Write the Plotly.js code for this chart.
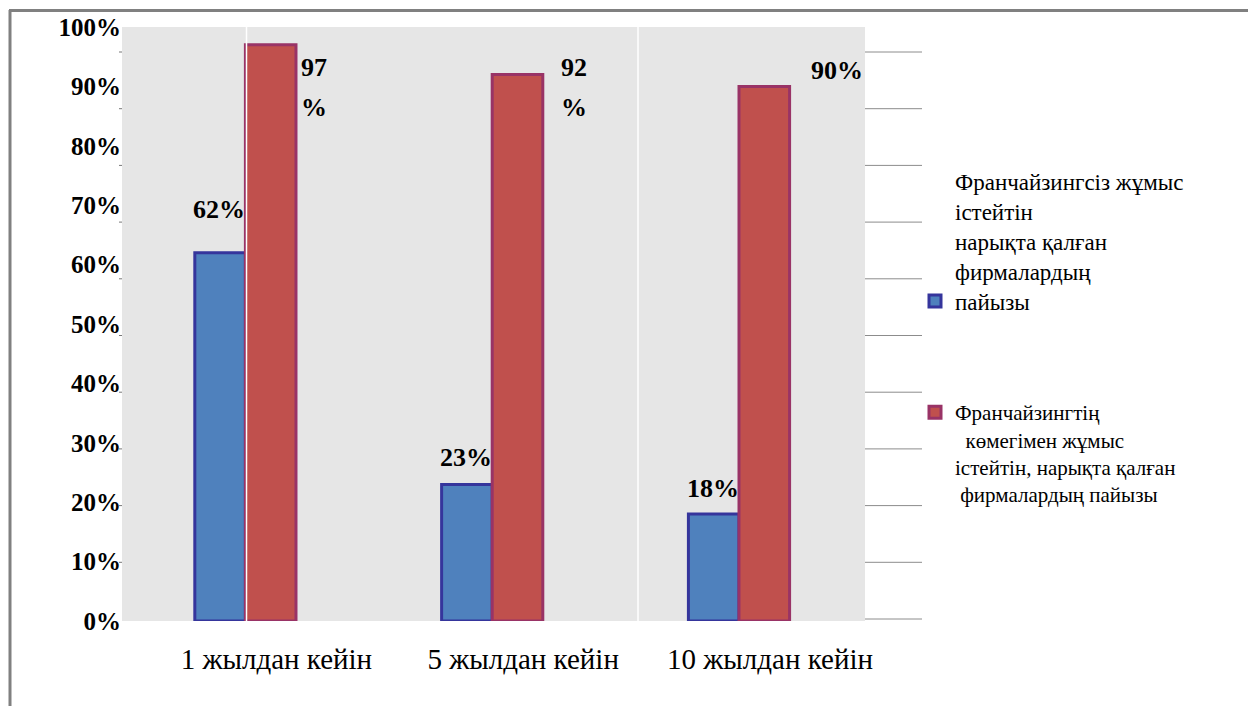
<!DOCTYPE html>
<html>
<head>
<meta charset="utf-8">
<script src="https://cdn.plot.ly/plotly-3.0.1.min.js"></script>
<style>html,body{margin:0;padding:0;background:#fff;}#chart{width:1248px;height:706px;}</style>
</head>
<body>
<div id="chart"></div>
<script>
// ---- data ----
const categories = ['1 жылдан кейін', '5 жылдан кейін', '10 жылдан кейін'];
const withoutFranchise = [62, 23, 18];
const withFranchise = [97, 92, 90];
const seriesNames = [
  'Франчайзингсіз жұмыс<br>істейтін<br>нарықта қалған<br>фирмалардың<br>пайызы',
  'Франчайзингтің<br>&nbsp;&nbsp;көмегімен жұмыс<br>істейтін, нарықта қалған<br>&nbsp;фирмалардың пайызы'
];
const blueLabels = ['62%', '23%', '18%'];
const redLabelsTop = ['97', '92', '90%'];
const redLabelsBottom = ['%', '%', ''];
const yTickVals = [0, 10, 20, 30, 40, 50, 60, 70, 80, 90, 100];
const yTickText = ['0%', '10%', '20%', '30%', '40%', '50%', '60%', '70%', '80%', '90%', '100%'];

// ---- styling ----
const W = 1248, H = 706;
const M = {l: 122, r: W - 865, t: 27, b: H - 621};
const plotW = W - M.l - M.r, plotH = H - M.t - M.b;
const px2x = p => (p - M.l) / plotW;
const px2y = p => (H - M.b - p) / plotH;
const serif = "'Liberation Serif', 'Times New Roman', serif";

const blueYShift = [43, 27, 26];
const redXShift = [54, 67, 70];
const redYShift = [-23, 7, 16];

const traces = [
  {
    type: 'bar', x: categories, y: withoutFranchise, name: seriesNames[0],
    marker: {color: '#4F81BD', line: {color: '#35359C', width: 3}},
    legend: 'legend', hoverinfo: 'skip'
  },
  {
    type: 'bar', x: categories, y: withFranchise, name: seriesNames[1],
    marker: {color: '#C0504D', line: {color: '#993366', width: 3}},
    legend: 'legend2', hoverinfo: 'skip'
  }
];

const annotations = [];
const labelFont = {family: serif, size: 26, color: '#000', weight: 'bold'};
categories.forEach((c, i) => {
  annotations.push({x: c, y: withoutFranchise[i], xref: 'x', yref: 'y', text: blueLabels[i],
    showarrow: false, xanchor: 'center', yanchor: 'middle', xshift: -26, yshift: blueYShift[i], font: labelFont});
  annotations.push({x: c, y: withFranchise[i], xref: 'x', yref: 'y', text: redLabelsTop[i],
    showarrow: false, xanchor: 'left', yanchor: 'middle', xshift: redXShift[i], yshift: redYShift[i], font: labelFont});
  if (redLabelsBottom[i]) {
    annotations.push({x: c, y: withFranchise[i], xref: 'x', yref: 'y', text: redLabelsBottom[i],
      showarrow: false, xanchor: 'left', yanchor: 'middle', xshift: redXShift[i], yshift: redYShift[i] - 40, font: labelFont});
  }
});

const shapes = [];
// outer frame lines (top & left)
shapes.push({type: 'line', xref: 'paper', yref: 'paper', x0: px2x(9), x1: px2x(1248), y0: px2y(10.5), y1: px2y(10.5), line: {color: '#808080', width: 3}});
shapes.push({type: 'line', xref: 'paper', yref: 'paper', x0: px2x(10), x1: px2x(10), y0: px2y(10), y1: px2y(706), line: {color: '#808080', width: 3}});
// right-side grid stubs and left small ticks
for (let k = 0; k <= 10; k++) {
  const py = 619 - k * 56.7;
  shapes.push({type: 'line', xref: 'paper', yref: 'paper', x0: 1, x1: px2x(922), y0: px2y(py), y1: px2y(py), line: {color: '#8c8c8c', width: 1}});
  if (k > 0) shapes.push({type: 'line', xref: 'paper', yref: 'paper', x0: px2x(119), x1: px2x(122), y0: px2y(py), y1: px2y(py), line: {color: '#777', width: 1}});
}
// white vertical scan lines
[246.5, 638].forEach(p => shapes.push({type: 'line', xref: 'paper', yref: 'paper', layer: 'above', x0: px2x(p), x1: px2x(p), y0: 0, y1: 1, line: {color: '#ffffff', width: 1.5}}));

const layout = {
  width: W, height: H,
  margin: M,
  paper_bgcolor: '#ffffff',
  plot_bgcolor: '#E6E6E6',
  font: {family: serif, color: '#000'},
  barmode: 'group', bargap: 0.59, bargroupgap: 0,
  xaxis: {
    showgrid: false, zeroline: false, showline: false, ticks: '',
    tickfont: {family: serif, size: 29, color: '#000'},
    ticklabelshift: 31, ticklabelstandoff: 18, fixedrange: true
  },
  yaxis: {
    range: [0, 100], tickmode: 'array', tickvals: yTickVals, ticktext: yTickText,
    showgrid: false, zeroline: false, showline: false, ticks: '',
    tickfont: {family: serif, size: 25, color: '#000', weight: 'bold'},
    ticklabelstandoff: 0, fixedrange: true
  },
  showlegend: true,
  legend: {
    x: px2x(915), y: px2y(160), xanchor: 'left', yanchor: 'top',
    valign: 'bottom', bgcolor: 'rgba(0,0,0,0)',
    font: {family: serif, size: 23, color: '#000'}, itemclick: false, itemdoubleclick: false
  },
  legend2: {
    x: px2x(915), y: px2y(392), xanchor: 'left', yanchor: 'top',
    valign: 'top', bgcolor: 'rgba(0,0,0,0)',
    font: {family: serif, size: 21, color: '#000'}, itemclick: false, itemdoubleclick: false
  },
  annotations: annotations,
  shapes: shapes
};

Plotly.newPlot('chart', traces, layout, {displayModeBar: false, staticPlot: true});
</script>
</body>
</html>
